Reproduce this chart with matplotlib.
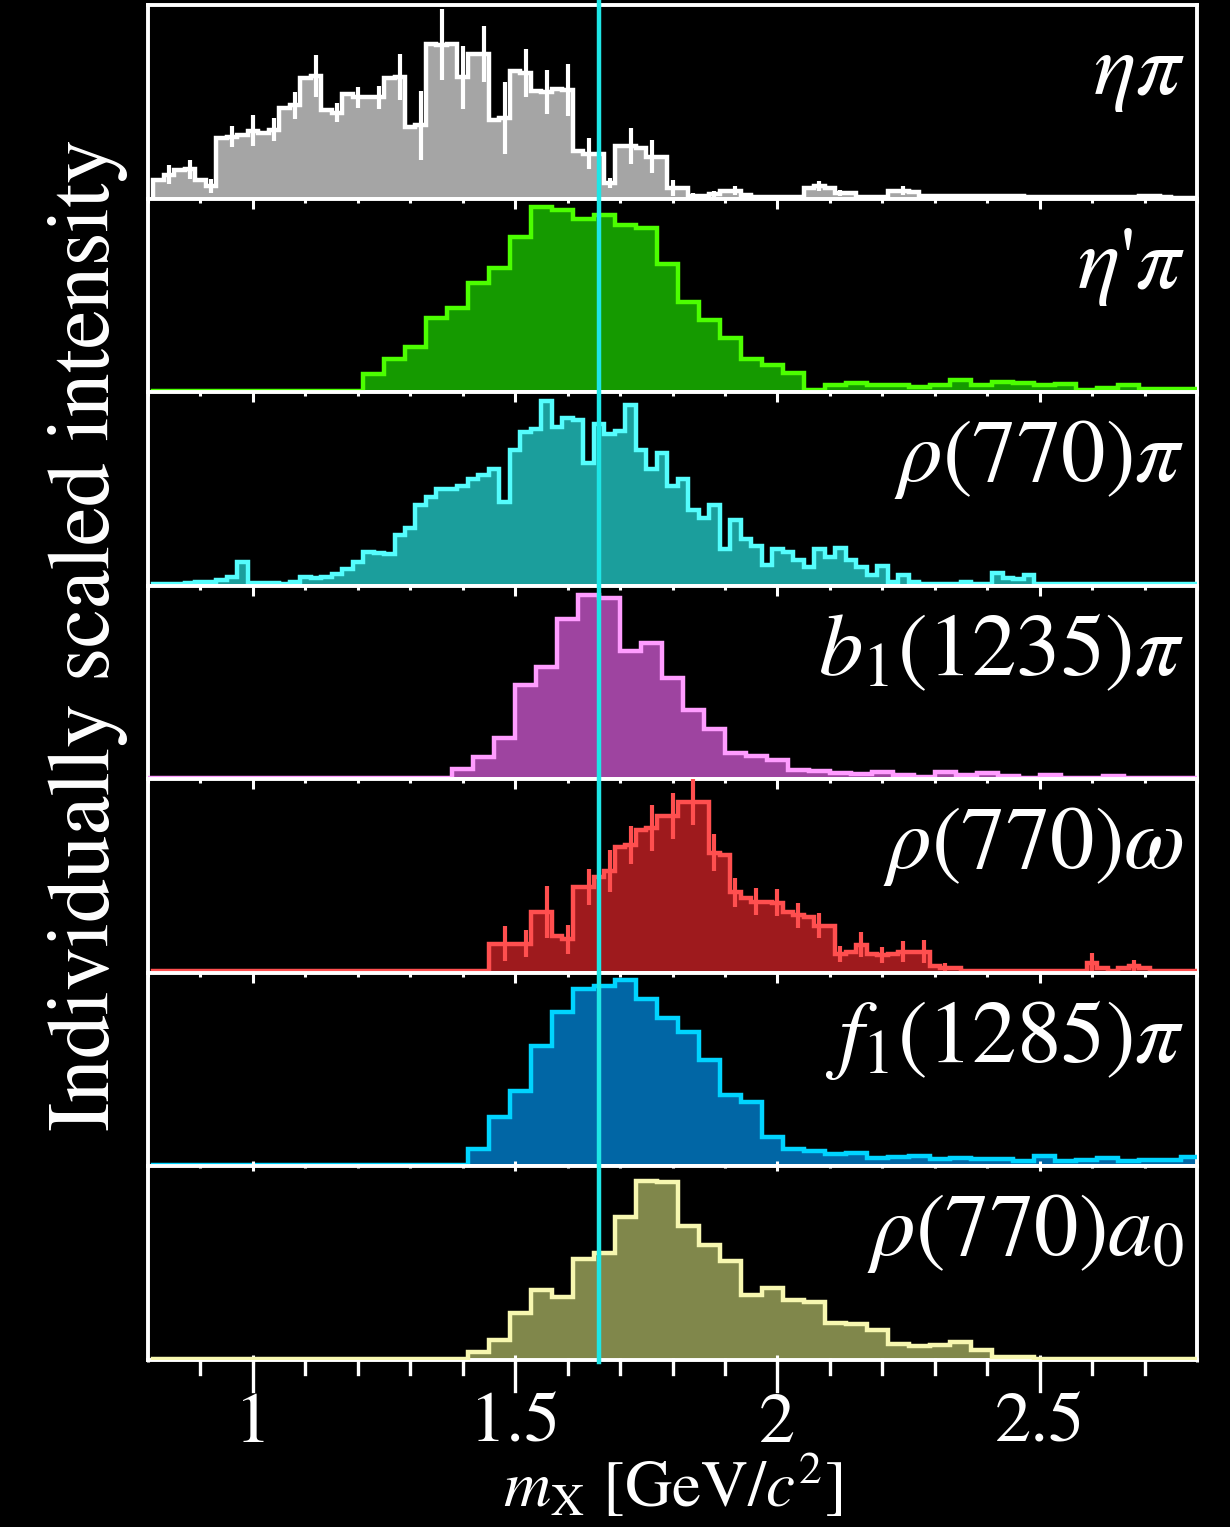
import numpy as np
import matplotlib
matplotlib.use('Agg')
import matplotlib.pyplot as plt
from matplotlib.lines import Line2D
from matplotlib.ticker import MultipleLocator, FixedLocator, FixedFormatter
from matplotlib.transforms import blended_transform_factory

plt.rcParams['font.family'] = 'STIXGeneral'
plt.rcParams['mathtext.fontset'] = 'stix'

# bin edges (GeV/c^2)
fine_edges = np.round(0.81 + 0.02 * np.arange(101), 2)      # 0.81 .. 2.81
coarse_edges = np.round(0.81 + 0.04 * np.arange(51), 2)     # 0.81 .. 2.81
b1_edges = np.round(0.78 + 0.04 * np.arange(52), 2)         # 0.78 .. 2.82

# intensities (arbitrary units)
eta_pi = [18, 23, 27, 28, 18, 12, 58, 59, 61, 65,
          63, 66, 87, 89, 115, 117, 85, 82, 100, 97,
          97, 97, 115, 116, 68, 70, 148, 147, 148, 116,
          138, 138, 75, 77, 122, 120, 103, 102, 105, 104,
          45, 43, 43, 15, 50, 50, 48, 40, 40, 10,
          10, 2.3, 2.3, 4.3, 7.7, 7.7, 3.3, 1.5, 1.5, 1.5,
          1.5, 1.5, 10, 12, 10, 5, 5, 1.7, 1.7, 1.7,
          7.7, 7.7, 6.7, 2.3, 2.3, 2.3, 2.7, 2.7, 2.7, 2.7,
          2.7, 2.7, 2.3, 1.5, 1.5, 1.5, 1.5, 1.5, 1.5, 1.5,
          1.5, 1.5, 1.5, 1.5, 2.3, 2.3, 1.5, 1, 1, 1]
# errors on every second bin (bins 1, 3, 5, ...)
eta_pi_err = [9, 9, 7, 10, 15, 11, 13, 20, 9, 10,
              11, 22, 33, 34, 30, 27, 34, 23, 21, 25,
              15, 5, 17, 16, 8, 3, 3, 4, 1, 1,
              1, 5, 3, 1, 1, 4, 2, 2, 2, 2,
              2, 1, 1, 1, 1, 1, 1, 2, 0, 0]

eta_prime_pi = [1.5] * 10 + [
    17.7, 32, 43, 71, 80, 104, 119, 148, 177, 174,
    165, 169, 160, 157, 122, 86, 69, 52, 32, 26,
    18, 2.3, 7.3, 9, 7.3, 6.7, 5, 6.7, 11.7, 7.3,
    10, 8.3, 6.7, 7.7, 1.7, 4.3, 6.7, 2.7, 2.7, 3.3]

rho_pi = [1.7, 1.7, 1.7, 2.7, 3.3, 3.3, 5, 8.3, 23, 2.3,
          2.7, 2.7, 1.7, 3.3, 8.3, 7.3, 8.3, 11, 15.7, 23,
          32, 31, 30, 48, 55, 77, 85, 92, 92, 95,
          102, 106, 112, 80, 130, 147, 150, 177, 152, 160,
          158, 117, 155, 145, 148, 173, 130, 112, 127, 95,
          102, 72, 65, 77, 35, 63, 45, 38, 20, 35,
          32, 25, 18, 35, 27, 36, 25, 18, 10, 19,
          4, 10, 3.3, 1.5, 1.5, 1.5, 1.5, 4, 1.5, 1.5,
          11.7, 7.7, 6.7, 10, 1.5, 1.5, 1.5, 1.5, 1.5, 1.5,
          1.5, 1.5, 1.5, 1.5, 1.5, 1.5, 1.5, 1.5, 1.5, 1.5]

b1_pi = [1.5] * 15 + [
    10, 21, 39, 90, 107, 153, 176, 173, 123, 130,
    97, 66, 48, 25, 22, 18, 9, 7.7, 5.7, 5,
    7.3, 4.3, 2.3, 6.7, 4.3, 6, 3, 1.7, 4.3, 1.7,
    1.7, 3, 1.7, 1.7, 1.7, 1.7]

rho_omega = [1.5] * 32 + [
    28, 28, 28, 28, 58, 58, 35, 32, 82, 82,
    92, 97, 120, 122, 137, 138, 150, 150, 163, 163,
    163, 115, 113, 77, 72, 68, 68, 67, 58, 55,
    53, 45, 45, 18, 20, 27, 18, 17, 18, 20,
    20, 20, 7, 5, 5] + [1.5] * 12 + [9, 5, 1.5, 5, 7, 5] + [1.5] * 5
rho_omega_err = [0] * 16 + [
    17, 13, 25, 14, 17, 20, 18, 22, 22, 22,
    18, 14, 13, 13, 12, 12, 8, 12, 8, 10,
    11, 4] + [0] * 6 + [10, 0, 5, 0, 0, 0]

f1_pi = [1.5] * 15 + [
    17, 47, 72, 115, 148, 170, 172, 178, 160, 142,
    128, 102, 68, 62, 28, 17, 15, 12, 13, 8,
    9, 10, 7, 8, 7, 7, 5, 10, 5, 6,
    8, 5, 6, 6, 9]

rho_a0 = [1.0] * 15 + [
    8, 19, 45, 67, 60, 97, 102, 137, 171, 170,
    128, 110, 95, 62, 69, 57, 55, 35, 34, 29,
    15, 13, 14, 17, 10, 3.3, 2.7, 1.0, 1.0, 1.0] + [1.0] * 5

labels = [r'$\eta\pi$', r"$\eta$'$\pi$", r'$\rho(770)\pi$', r'$b_1(1235)\pi$',
          r'$\rho(770)\omega$', r'$f_1(1285)\pi$', r'$\rho(770)a_{\mathit{0}}$']
tick_vals = [1.0, 1.5, 2.0, 2.5]
tick_text = ['1', '1.5', '2', '2.5']

panels = [
    (eta_pi, fine_edges, eta_pi_err, '#a5a5a5', '#ffffff'),
    (eta_prime_pi, coarse_edges, None, '#159a00', '#4cff00'),
    (rho_pi, fine_edges, None, '#1b9e9c', '#55fdfd'),
    (b1_pi, b1_edges, None, '#9e44a0', '#ff9cff'),
    (rho_omega, fine_edges, rho_omega_err, '#9e1a1d', '#ff4f4f'),
    (f1_pi, coarse_edges, None, '#0166a5', '#00d4ff'),
    (rho_a0, coarse_edges, None, '#80874b', '#f7f7b0'),
]

line_mass = 1.66

W, H = 1230, 1527
fig = plt.figure(figsize=(W / 100, H / 100), dpi=100, facecolor='black')
gs = fig.add_gridspec(7, 1, left=148 / W, right=1197 / W,
                      top=1 - 5 / H, bottom=1 - 1360 / H, hspace=0)

axes = []
for i, (vals, edges, err, fill, line) in enumerate(panels):
    ax = fig.add_subplot(gs[i, 0])
    axes.append(ax)
    ax.set_facecolor('black')
    ax.stairs(vals, edges, baseline=0, fill=True, color=fill, lw=0)
    ax.stairs(vals, edges, baseline=0, fill=False, color=line, lw=3.2,
              zorder=3)
    if err is not None:
        centers = 0.5 * (edges[:-1] + edges[1:])
        v = np.array(vals, dtype=float)[1::2]
        e = np.array(err, dtype=float)
        xc = centers[1::2]
        m = e > 0
        ax.vlines(xc[m], v[m] - e[m], v[m] + e[m], color=line, lw=3.0,
                  zorder=3)
    ax.set_xlim(0.8, 2.8)
    ax.set_ylim(0, 185)
    ax.set_yticks([])
    for s in ax.spines.values():
        s.set_color('white')
        s.set_linewidth(2.8)
    ax.xaxis.set_major_locator(FixedLocator(tick_vals))
    ax.xaxis.set_major_formatter(FixedFormatter(tick_text))
    ax.xaxis.set_minor_locator(MultipleLocator(0.1))
    ax.text(0.988, 0.54, labels[i], transform=ax.transAxes, ha='right',
            va='baseline', fontsize=64, color='white', zorder=6)
    if i == 0:
        ax.tick_params(axis='x', which='both', bottom=False, top=False,
                       labelbottom=False)
    else:
        ax.tick_params(axis='x', which='both', bottom=False, top=True,
                       direction='in', colors='white', labelbottom=False)
        ax.tick_params(axis='x', which='major', length=7, width=2.2)
        ax.tick_params(axis='x', which='minor', length=3, width=2.2)

# bottom axis with labels
axb = axes[-1]
axb.tick_params(axis='x', which='both', bottom=True, labelbottom=True)
axb.tick_params(axis='x', which='major', direction='inout', length=7,
                width=2.2, labelsize=52, pad=20, colors='white')
axb.tick_params(axis='x', which='minor', direction='inout', length=3,
                width=2.2, colors='white')
# long outward ticks below the last panel
trans_b = blended_transform_factory(axb.transData, fig.transFigure)
for t in tick_vals:
    fig.add_artist(Line2D([t, t], [1 - 1362 / H, 1 - 1391 / H],
                          transform=trans_b, color='white', lw=2.4))
for t in np.round(np.arange(0.9, 2.75, 0.1), 2):
    if t in tick_vals:
        continue
    fig.add_artist(Line2D([t, t], [1 - 1362 / H, 1 - 1374 / H],
                          transform=trans_b, color='white', lw=2.4))
axb.set_xlabel(r'$m_{\mathrm{X}}$ [GeV/$c^2$]', fontsize=47, color='white',
               labelpad=-4)

# vertical reference line through all panels
fig.add_artist(Line2D([line_mass, line_mass], [1 - 1362 / H, 1.0],
                      transform=trans_b, color='#1ee6e6', lw=3.2, zorder=5))

fig.text(88 / W, 1 - 635 / H, 'Individually scaled intensity', rotation=90,
         ha='center', va='center', fontsize=63, color='white')

fig.savefig('out.png', dpi=100, facecolor='black')
